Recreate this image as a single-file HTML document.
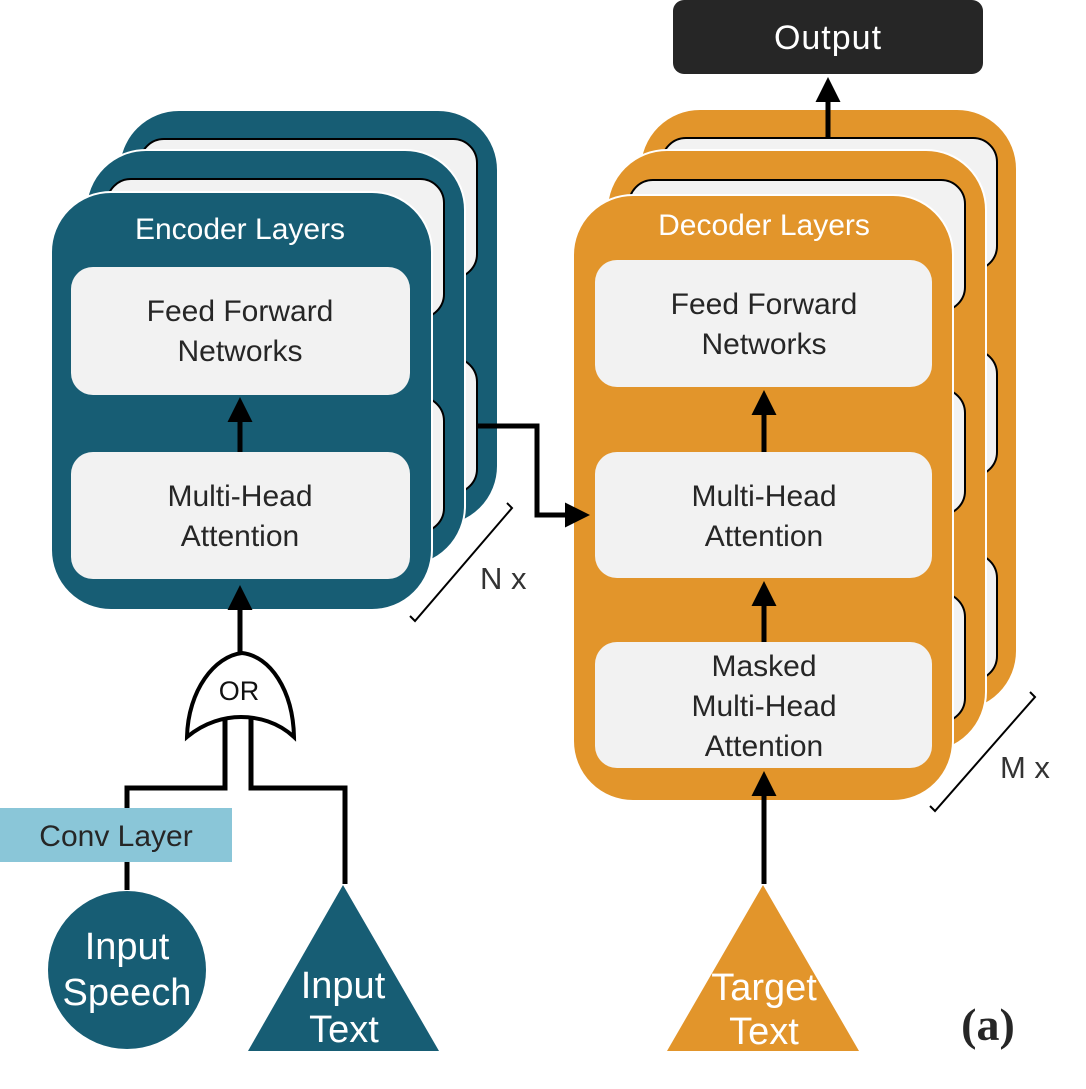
<!DOCTYPE html>
<html><head><meta charset="utf-8"><style>
html,body{margin:0;padding:0;background:#fff;}
svg{display:block;}
text{font-family:"Liberation Sans","DejaVu Sans",sans-serif;}
</style></head><body>
<svg width="1086" height="1089" viewBox="0 0 1086 1089" xmlns="http://www.w3.org/2000/svg">
<defs>
<marker id="ah" markerWidth="5" markerHeight="5" refX="4" refY="2.5" orient="auto" markerUnits="strokeWidth">
<path d="M0,0 L5,2.5 L0,5 z" fill="#000"/>
</marker>
</defs>

<!-- Output -->
<rect x="673" y="0" width="310" height="74" rx="11" fill="#262626"/>
<text x="828" y="49" font-size="34" fill="#fff" text-anchor="middle" letter-spacing="1">Output</text>

<!-- Encoder back layer -->
<rect x="119" y="110" width="379" height="416" rx="60" fill="#175d74" stroke="#fff" stroke-width="2"/>
<rect x="140" y="139" width="337" height="139" rx="24" fill="#f2f2f2" stroke="#000" stroke-width="2"/>
<rect x="140" y="358" width="337" height="135" rx="24" fill="#f2f2f2" stroke="#000" stroke-width="2"/>
<!-- Encoder middle layer -->
<rect x="86" y="150" width="379" height="416" rx="60" fill="#175d74" stroke="#fff" stroke-width="2"/>
<rect x="107" y="179" width="337" height="139" rx="24" fill="#f2f2f2" stroke="#000" stroke-width="2"/>
<rect x="107" y="397" width="337" height="135" rx="24" fill="#f2f2f2" stroke="#000" stroke-width="2"/>
<!-- Encoder front -->
<rect x="51" y="192" width="381" height="418" rx="60" fill="#175d74" stroke="#fff" stroke-width="2"/>
<text x="240" y="239" font-size="30" fill="#fff" text-anchor="middle">Encoder Layers</text>
<rect x="71" y="267" width="339" height="128" rx="22" fill="#f2f2f2"/>
<text x="240" y="321" font-size="30" fill="#262626" text-anchor="middle">Feed Forward</text>
<text x="240" y="361" font-size="30" fill="#262626" text-anchor="middle">Networks</text>
<rect x="71" y="452" width="339" height="127" rx="22" fill="#f2f2f2"/>
<text x="240" y="506" font-size="30" fill="#262626" text-anchor="middle">Multi-Head</text>
<text x="240" y="546" font-size="30" fill="#262626" text-anchor="middle">Attention</text>
<line x1="240" y1="452" x2="240" y2="402" stroke="#000" stroke-width="5" marker-end="url(#ah)"/>

<!-- Decoder back -->
<rect x="640" y="109" width="377" height="602" rx="60" fill="#e2952b" stroke="#fff" stroke-width="2"/>
<rect x="662" y="138" width="335" height="132" rx="24" fill="#f2f2f2" stroke="#000" stroke-width="2"/>
<rect x="662" y="350" width="335" height="126" rx="24" fill="#f2f2f2" stroke="#000" stroke-width="2"/>
<rect x="662" y="554" width="335" height="126" rx="24" fill="#f2f2f2" stroke="#000" stroke-width="2"/>
<line x1="828" y1="138" x2="828" y2="82" stroke="#000" stroke-width="5" marker-end="url(#ah)"/>
<!-- Decoder middle -->
<rect x="607" y="150" width="379" height="602" rx="60" fill="#e2952b" stroke="#fff" stroke-width="2"/>
<rect x="629" y="180" width="336" height="131" rx="24" fill="#f2f2f2" stroke="#000" stroke-width="2"/>
<rect x="629" y="389" width="336" height="126" rx="24" fill="#f2f2f2" stroke="#000" stroke-width="2"/>
<rect x="629" y="593" width="336" height="129" rx="24" fill="#f2f2f2" stroke="#000" stroke-width="2"/>
<!-- Decoder front -->
<rect x="573" y="195" width="380" height="606" rx="60" fill="#e2952b" stroke="#fff" stroke-width="2"/>
<text x="764" y="235" font-size="30" fill="#fff" text-anchor="middle">Decoder Layers</text>
<rect x="595" y="260" width="337" height="127" rx="22" fill="#f2f2f2"/>
<text x="764" y="314" font-size="30" fill="#262626" text-anchor="middle">Feed Forward</text>
<text x="764" y="354" font-size="30" fill="#262626" text-anchor="middle">Networks</text>
<rect x="595" y="452" width="337" height="126" rx="22" fill="#f2f2f2"/>
<text x="764" y="506" font-size="30" fill="#262626" text-anchor="middle">Multi-Head</text>
<text x="764" y="546" font-size="30" fill="#262626" text-anchor="middle">Attention</text>
<rect x="595" y="642" width="337" height="126" rx="22" fill="#f2f2f2"/>
<text x="764" y="676" font-size="30" fill="#262626" text-anchor="middle">Masked</text>
<text x="764" y="716" font-size="30" fill="#262626" text-anchor="middle">Multi-Head</text>
<text x="764" y="756" font-size="30" fill="#262626" text-anchor="middle">Attention</text>
<line x1="764" y1="452" x2="764" y2="395" stroke="#000" stroke-width="5" marker-end="url(#ah)"/>
<line x1="764" y1="642" x2="764" y2="586" stroke="#000" stroke-width="5" marker-end="url(#ah)"/>

<!-- encoder -> decoder connector -->
<polyline points="477,426 537,426 537,515 585,515" fill="none" stroke="#000" stroke-width="5" marker-end="url(#ah)"/>

<!-- brackets -->
<polyline points="410,616 415,621 512,508 507,503" fill="none" stroke="#000" stroke-width="2"/>
<text x="480" y="589" font-size="31" fill="#333">N x</text>
<polyline points="930,806 935,811 1035,697 1030,692" fill="none" stroke="#000" stroke-width="2"/>
<text x="1000" y="778" font-size="31" fill="#333">M x</text>

<!-- OR gate -->
<line x1="240" y1="653" x2="240" y2="590" stroke="#000" stroke-width="5" marker-end="url(#ah)"/>
<path d="M242,653 C215,656 188,690 187,737 C205,722 225,717 241,717 C258,717 278,722 294,737 C293,690 270,656 242,653 Z" fill="#fff" stroke="#000" stroke-width="4"/>
<text x="239" y="700" font-size="27" fill="#111" text-anchor="middle">OR</text>
<polyline points="225,718 225,788 127,788 127,890" fill="none" stroke="#000" stroke-width="5"/>
<polyline points="251,718 251,788 345,788 345,884" fill="none" stroke="#000" stroke-width="5"/>

<!-- Conv Layer -->
<rect x="0" y="808" width="232" height="54" fill="#8ac6d8"/>
<text x="116" y="846" font-size="30" fill="#262626" text-anchor="middle">Conv Layer</text>

<!-- Input speech -->
<circle cx="127" cy="970" r="79" fill="#175d74"/>
<text x="127" y="959" font-size="38" fill="#fff" text-anchor="middle">Input</text>
<text x="127" y="1005" font-size="38" fill="#fff" text-anchor="middle">Speech</text>

<!-- Input text -->
<polygon points="343,885 439,1051 248,1051" fill="#175d74"/>
<text x="343" y="998" font-size="38" fill="#fff" text-anchor="middle">Input</text>
<text x="344" y="1042" font-size="38" fill="#fff" text-anchor="middle">Text</text>

<!-- Target text -->
<line x1="764" y1="884" x2="764" y2="776" stroke="#000" stroke-width="5" marker-end="url(#ah)"/>
<polygon points="763,885 859,1051 667,1051" fill="#e2952b"/>
<text x="764" y="1000" font-size="38" fill="#fff" text-anchor="middle">Target</text>
<text x="764" y="1044" font-size="38" fill="#fff" text-anchor="middle">Text</text>

<text x="988" y="1040" font-size="46" font-weight="bold" fill="#262626" text-anchor="middle" style="font-family:'Liberation Serif',serif">(a)</text>
</svg>
</body></html>
